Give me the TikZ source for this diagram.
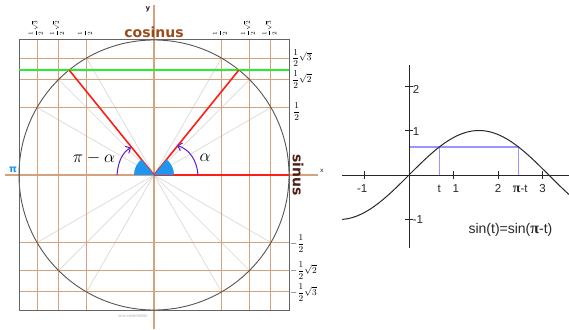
\documentclass[tikz,border=0pt]{standalone}
\usepackage{fontspec}
\setsansfont{Liberation Sans}
\newfontfamily\verd{DejaVu Sans}
\newfontfamily\pifont{Liberation Serif}
\usetikzlibrary{arrows.meta}
\definecolor{gridc}{RGB}{214,162,126}
\definecolor{rayc}{RGB}{218,218,218}
\definecolor{circc}{RGB}{85,85,85}
\definecolor{boxc}{RGB}{100,100,100}
\definecolor{greenc}{RGB}{40,240,40}
\definecolor{redc}{RGB}{255,30,20}
\definecolor{bluec}{RGB}{30,150,240}
\definecolor{purplec}{RGB}{100,30,200}
\definecolor{cosc}{RGB}{153,77,26}
\definecolor{sinc}{RGB}{80,30,20}
\definecolor{lavc}{RGB}{150,150,255}
\definecolor{axc}{RGB}{40,40,40}
\tikzset{
  gridline/.style={draw=gridc, line width=1.1pt},
  rayline/.style={draw=rayc, line width=0.7pt},
  redline/.style={draw=redc, line width=1.6pt},
  anglearrow/.style={draw=purplec, line width=1pt, -{Straight Barb[length=4pt,width=8pt]}},
  toplab/.style={rotate=90, anchor=west, inner sep=0.5pt, font=\fontsize{6}{7}\selectfont},
  rightlab/.style={anchor=west, inner sep=0pt, font=\fontsize{9.5}{10}\selectfont},
  graphax/.style={draw=axc, line width=1pt},
  lav/.style={draw=lavc, line width=1.2pt},
  glab/.style={font=\sffamily\fontsize{11.5}{12}\selectfont, text=axc, inner sep=1pt}
}
\begin{document}
\begin{tikzpicture}[x=1pt,y=-1pt]
\useasboundingbox (0,0) rectangle (569,329);
\fill[white] (0,0) rectangle (569,329);
\coordinate (O) at (154,175);
% rays (diameters)
\foreach \a in {30,45,60,120,135,150}
  \draw[rayline] ([shift={(\a:135)}]O) -- ([shift={(\a+180:135)}]O);
% grid lines
\foreach \d in {-116.91,-95.46,-67.5,67.5,95.46,116.91}{
  \draw[gridline] (154+\d,40) -- (154+\d,310);
  \draw[gridline] (19,175+\d) -- (289,175+\d);
}
% axes
\coordinate (ytop) at (154,5);
\coordinate (ybot) at (154,329);
\coordinate (xl) at (5,175);
\coordinate (xr) at (318,175);
\draw[gridline] (ytop) -- (ybot);
\draw[gridline] (xl) -- (xr);
% circle and box
\draw[circc, line width=0.9pt] (O) circle[radius=135];
\draw[boxc, line width=1pt] (19,40) rectangle (289,310);
% green line
\coordinate (gl) at (19,70);
\coordinate (gr) at (289,70);
\draw[greenc, line width=2pt] (gl) -- (gr);
% red lines
\coordinate (P) at (238.9,70);
\coordinate (Q) at (69.1,70);
\coordinate (S) at (289,175);
\draw[redline] (O) -- (P);
\draw[redline] (O) -- (Q);
\draw[redline] (O) -- (S);
% blue sectors
\fill[bluec] (O) -- ++(0:20) arc[start angle=0, end angle=-51, radius=20] -- cycle;
\fill[bluec] (O) -- ++(-129:20) arc[start angle=-129, end angle=-180, radius=20] -- cycle;
% angle arrows
\coordinate (a1s) at (198,175);
\coordinate (a1e) at (177,145.5);
\coordinate (a2s) at (117,175);
\coordinate (a2e) at (131,147.5);
\draw[anglearrow] (a1s) .. controls (197,160) and (189,149) .. (a1e);
\draw[anglearrow] (a2s) .. controls (118,161) and (123,152) .. (a2e);
\node[font=\fontsize{16}{16}\selectfont] (alab) at (205,158) {$\alpha$};
\node[font=\fontsize{16}{16}\selectfont] (palab) at (94,158) {$\pi-\alpha$};
% labels
\node[font=\verd\bfseries\fontsize{14}{14}\selectfont, text=cosc] (cos) at (154,32) {cosinus};
\node[font=\verd\bfseries\fontsize{14}{14}\selectfont, text=sinc, rotate=-90] (sin) at (298,175) {sinus};
\node[font=\verd\bfseries\fontsize{10}{10}\selectfont, text=bluec] (pil) at (13,170) {π};
\node[font=\verd\bfseries\fontsize{7}{7}\selectfont, text=axc] (ylab) at (148,9) {y};
\node[font=\verd\fontsize{6}{6}\selectfont, text=axc] (xlab) at (322,171) {x};
\node[font=\sffamily\fontsize{4.5}{5}\selectfont, text=gray!60] (wm) at (133,316) {w.w.ravenstein};
% top rotated labels
\node[toplab] (t1) at (35.6,37) {$\displaystyle\frac12\sqrt3$};
\node[toplab] (t2) at (57,37) {$\displaystyle\frac12\sqrt2$};
\node[toplab] (t3) at (85,37) {$\displaystyle\frac12$};
\node[toplab] (t4) at (220,37) {$\displaystyle\frac12$};
\node[toplab] (t5) at (248,37) {$\displaystyle\frac12\sqrt2$};
\node[toplab] (t6) at (269.4,37) {$\displaystyle\frac12\sqrt3$};
% right labels
\node[rightlab] (r1) at (292,58.1) {$\displaystyle\frac12\sqrt3$};
\node[rightlab] (r2) at (292,80) {$\displaystyle\frac12\sqrt2$};
\node[rightlab] (r3) at (293,112) {$\displaystyle\frac12$};
\node[rightlab] (r4) at (290,243.5) {$\displaystyle-\frac12$};
\node[rightlab] (r5) at (290,270.5) {$\displaystyle-\frac12\sqrt2$};
\node[rightlab] (r6) at (290,292.5) {$\displaystyle-\frac12\sqrt3$};
% right graph
\begin{scope}[shift={(409,175)}, x=44.5pt, y=44.5pt]
  \coordinate (gxl) at (-1.5,0);
  \coordinate (gxr) at (3.6,0);
  \coordinate (gyb) at (0,-1.65);
  \coordinate (gyt) at (0,2.47);
  \draw[lav] (0,0.629) -- (2.4616,0.629);
  \draw[lav] (0.68,0.629) -- (0.68,0);
  \draw[lav] (2.4616,0.629) -- (2.4616,0);
  \draw[graphax] (gxl) -- (gxr);
  \draw[graphax] (gyb) -- (gyt);
  \foreach \t in {-1,1,2,3} \draw[graphax] (\t,-0.08) -- (\t,0.08);
  \foreach \t in {-1,1,2} \draw[graphax] (-0.08,\t) -- (0.08,\t);
  \draw[axc, line width=1pt] plot[domain=-1.5:3.6, samples=120, smooth] (\x,{sin(\x r)});
  \node[glab] (lm1) at (-1.05,-0.3) {-1};
  \node[glab] (lt) at (0.68,-0.3) {t};
  \node[glab] (l1) at (1.05,-0.3) {1};
  \node[glab] (l2) at (2.0,-0.3) {2};
  \node[glab] (lpt) at (2.5,-0.3) {{\pifont\bfseries\fontsize{14}{14}\selectfont π}-t};
  \node[glab] (l3) at (3.0,-0.3) {3};
  \node[glab, anchor=west] (y2) at (0.06,1.93) {2};
  \node[glab, anchor=west] (y1) at (0.06,0.98) {1};
  \node[glab, anchor=west] (ym1) at (0.06,-1.0) {-1};
  \node[glab, font=\sffamily\fontsize{14}{14}\selectfont] (cap) at (2.28,-1.23) {sin(t)=sin({\pifont\bfseries\fontsize{16}{16}\selectfont π}-t)};
\end{scope}
\end{tikzpicture}
\end{document}
